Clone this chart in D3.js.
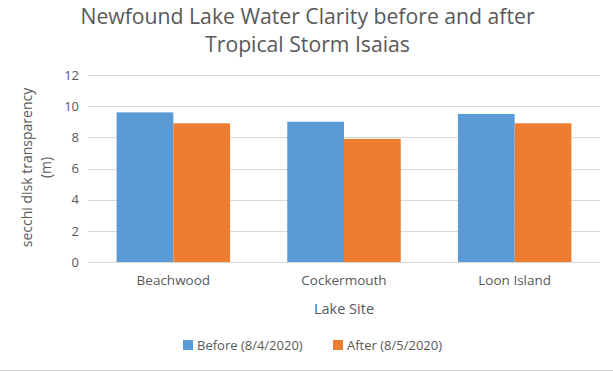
<!DOCTYPE html>
<html><head><meta charset="utf-8">
<script src="https://cdn.jsdelivr.net/npm/d3@7"></script>
<style>body{margin:0;background:#fff}svg{display:block}text{font-family:"Open Sans", sans-serif;fill:#595959}</style>
</head><body><svg id="c" width="613" height="372"></svg>
<script>
const categories = ["Beachwood", "Cockermouth", "Loon Island"];
const seriesNames = ["Before (8/4/2020)", "After (8/5/2020)"];
const beforeValues = [9.6, 9.0, 9.5];
const afterValues = [8.9, 7.9, 8.9];
const yTicks = [0, 2, 4, 6, 8, 10, 12];
const colors = ["#5B9BD5", "#ED7D31"];

const svg = d3.select("#c");
const m = {l: 88, r: 13, t: 75, b: 110};
const W = 613, H = 372;
const x0 = d3.scaleBand().domain(categories).range([m.l, W - m.r]).paddingInner(0.335).paddingOuter(0.1675);
const x1 = d3.scaleBand().domain([0, 1]).range([0, x0.bandwidth()]);
const y = d3.scaleLinear().domain([0, 12]).range([262, 75]);

svg.append("rect").attr("width", W).attr("height", H).attr("fill", "#fff");
svg.append("line").attr("x1", 0).attr("x2", W).attr("y1", 370.5).attr("y2", 370.5).attr("stroke", "#d9d9d9");

svg.append("g").selectAll("line").data(yTicks.filter(d => d > 0)).join("line")
  .attr("x1", m.l).attr("x2", W - m.r).attr("y1", d => Math.round(y(d)) + 0.5).attr("y2", d => Math.round(y(d)) + 0.5)
  .attr("stroke", "#d9d9d9").attr("stroke-width", 1);

const yAxis = svg.append("g").attr("transform", `translate(${m.l},0)`)
  .call(d3.axisLeft(y).tickValues(yTicks).tickSize(0).tickPadding(9));
yAxis.select(".domain").remove();
yAxis.selectAll("text").style("font-size", "13px").attr("fill", "#595959").style("font-family", "'Open Sans', sans-serif");

const data = categories.map((c, i) => ({c, v: [beforeValues[i], afterValues[i]]}));
const g = svg.append("g").selectAll("g").data(data).join("g").attr("transform", d => `translate(${x0(d.c)},0)`);
g.selectAll("rect").data(d => d.v.map((v, k) => ({v, k}))).join("rect")
  .attr("x", d => x1(d.k)).attr("width", x1.bandwidth())
  .attr("y", d => y(d.v)).attr("height", d => y(0) - y(d.v))
  .attr("fill", d => colors[d.k]);

svg.append("line").attr("x1", m.l).attr("x2", W - m.r).attr("y1", 262.5).attr("y2", 262.5).attr("stroke", "#d9d9d9");

const xAxis = svg.append("g").attr("transform", `translate(0,262)`)
  .call(d3.axisBottom(x0).tickSize(0).tickPadding(13));
xAxis.select(".domain").remove();
xAxis.selectAll("text").style("font-size", "13.5px").attr("fill", "#595959").style("font-family", "'Open Sans', sans-serif");

svg.append("text").attr("x", (m.l + W - m.r) / 2).attr("y", 314).attr("text-anchor", "middle").style("font-size", "14.5px").text("Lake Site");

svg.append("text").attr("text-anchor", "middle").style("font-size", "21.2px")
  .selectAll("tspan").data(["Newfound Lake Water Clarity before and after", "Tropical Storm Isaias"]).join("tspan")
  .attr("x", 307.5).attr("y", (d, i) => 24 + i * 27.5).text(d => d);

svg.append("text").attr("transform", "translate(0,167.5) rotate(-90)").attr("text-anchor", "middle").style("font-size", "14px")
  .selectAll("tspan").data(["secchi disk transparency", "(m)"]).join("tspan")
  .attr("x", 0).attr("y", (d, i) => 32 + i * 19).text(d => d);

const leg = svg.append("g");
const legX = [183, 333];
seriesNames.forEach((s, i) => {
  leg.append("rect").attr("x", legX[i]).attr("y", 340).attr("width", 10).attr("height", 10).attr("fill", colors[i]);
  leg.append("text").attr("x", legX[i] + 14).attr("y", 350).style("font-size", "13px").text(s);
});
</script></body></html>
